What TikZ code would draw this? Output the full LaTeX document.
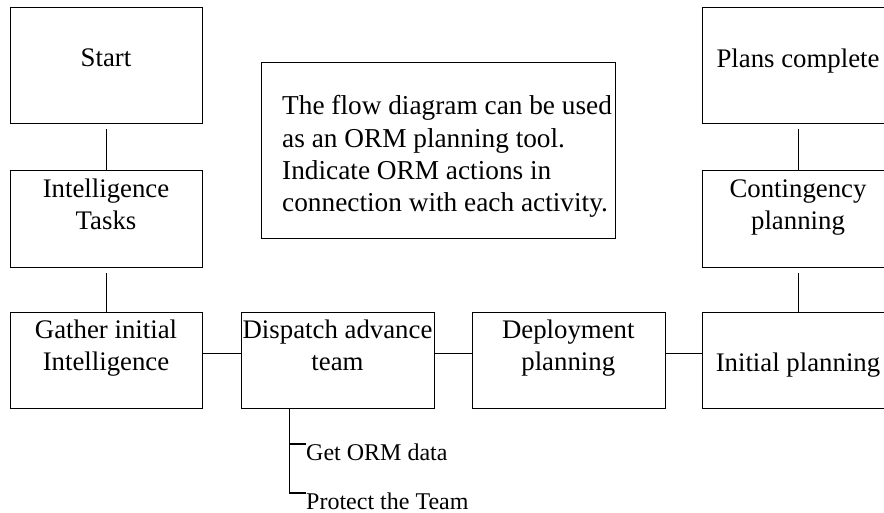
\documentclass[tikz,border=0pt]{standalone}
\usepackage{fontspec}
\setmainfont{Liberation Serif}
\begin{document}
\begin{tikzpicture}[x=1pt,y=-1pt,
  box/.style={draw, line width=1.4pt, anchor=north west, inner sep=0pt, minimum width=#1},
  box/.default=192pt,
  lbl/.style={anchor=north, inner sep=0pt, align=center, font=\fontsize{26.8}{32}\selectfont},
  sub/.style={anchor=north west, inner sep=0pt, font=\fontsize{24}{28}\selectfont},
  conn/.style={line width=1.4pt},
  gap/.style={conn, shorten <=5pt}
]
\useasboundingbox (0,0) rectangle (884,512);
\clip (0,0) rectangle (884,512);
% boxes
\node[box, minimum height=116pt] (start) at (10,7) {};
\node[box, minimum height=97pt] (intel) at (10,170) {};
\node[box, minimum height=96pt] (gather) at (10,312) {};
\node[box=193pt, minimum height=96pt] (dispatch) at (241,312) {};
\node[box=193.5pt, minimum height=96pt] (deploy) at (471.5,312) {};
\node[box, minimum height=96pt] (initial) at (702,312) {};
\node[box, minimum height=97pt] (cont) at (702,170) {};
\node[box, minimum height=116pt] (plans) at (702,7) {};
\node[box=354pt, minimum height=176pt] (note) at (261,62) {};
% labels
\node[lbl] (startl) at (106,49) {Start};
\node[lbl] (intell) at (106,179) {Intelligence\\Tasks};
\node[lbl] (gatherl) at (106,320) {Gather initial\\Intelligence};
\node[lbl] (dispatchl) at (337.5,320) {Dispatch advance\\team};
\node[lbl] (deployl) at (568.25,320) {Deployment\\planning};
\node[lbl] (initiall) at (798,353) {Initial planning};
\node[lbl] (contl) at (798,180) {Contingency\\planning};
\node[lbl] (plansl) at (798,49) {Plans complete};
\node[anchor=north west, inner sep=0pt, align=left, font=\fontsize{27.3}{32.3}\selectfont] (notel) at (282,95.5)
  {The flow diagram can be used\\as an ORM planning tool.\\Indicate ORM actions in\\connection with each activity.};
\node[sub] (getorm) at (306,444) {Get ORM data};
\node[sub] (protect) at (306,493) {Protect the Team};
% connectors
\draw[gap] (start.south) -- (intel.north);
\draw[gap] (intel.south) -- (gather.north);
\draw[gap] (plans.south) -- (cont.north);
\draw[gap] (cont.south) -- (initial.north);
\draw[conn] ([yshift=7pt]gather.east) -- ([yshift=7pt]dispatch.west);
\draw[conn] ([yshift=7pt]dispatch.east) -- ([yshift=7pt]deploy.west);
\draw[conn] ([yshift=7pt]deploy.east) -- ([yshift=7pt]initial.west);
\draw[conn] ([xshift=-48.5pt]dispatch.south) |- (getorm.north west);
\draw[conn] ([xshift=-48.5pt]dispatch.south) |- (protect.north west);
\end{tikzpicture}
\end{document}
